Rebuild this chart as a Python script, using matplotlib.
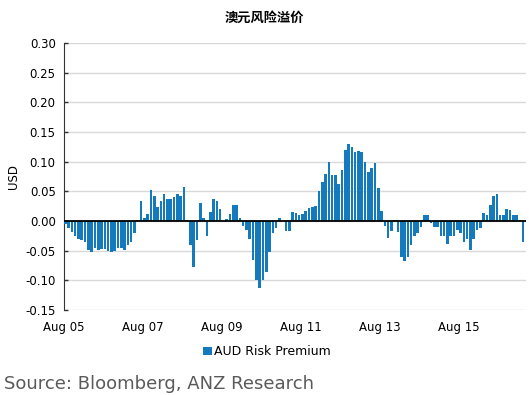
import numpy as np
import matplotlib
matplotlib.use("Agg")
import matplotlib.pyplot as plt

plt.rcParams['font.family'] = ['DejaVu Sans', 'Noto Sans CJK SC']

title = "澳元风险溢价"
series_name = "AUD Risk Premium"
source = "Source: Bloomberg, ANZ Research"

# monthly AUD risk premium, Aug 2005 onwards (USD)
premium = [
    -0.005, -0.012, -0.018, -0.025, -0.030, -0.032, -0.035, -0.048, -0.052, -0.045,
    -0.048, -0.047, -0.047, -0.050, -0.052, -0.050, -0.046, -0.045, -0.048, -0.040,
    -0.035, -0.020, 0.002, 0.033, 0.005, 0.012, 0.052, 0.043, 0.024, 0.033,
    0.045, 0.037, 0.038, 0.040, 0.045, 0.043, 0.058, 0.002, -0.040, -0.077,
    -0.032, 0.030, 0.005, -0.025, 0.015, 0.038, 0.033, 0.020, 0.000, 0.003,
    0.012, 0.027, 0.027, 0.006, -0.008, -0.015, -0.030, -0.065, -0.100, -0.112,
    -0.100, -0.085, -0.052, -0.020, -0.012, 0.005, 0.000, -0.017, -0.017, 0.015,
    0.014, 0.010, 0.012, 0.017, 0.022, 0.023, 0.025, 0.050, 0.065, 0.080,
    0.100, 0.077, 0.077, 0.063, 0.086, 0.120, 0.130, 0.124, 0.116, 0.118,
    0.116, 0.100, 0.083, 0.090, 0.098, 0.055, 0.017, -0.008, -0.028, -0.017,
    0.002, -0.018, -0.060, -0.068, -0.060, -0.040, -0.025, -0.020, -0.010, 0.010,
    0.010, -0.003, -0.010, -0.010, -0.025, -0.025, -0.038, -0.025, -0.025, -0.015,
    -0.020, -0.035, -0.030, -0.048, -0.030, -0.015, -0.012, 0.013, 0.010, 0.027,
    0.043, 0.045, 0.010, 0.010, 0.020, 0.018, 0.010, 0.010, 0.002, -0.035,
]
tick_labels = ["Aug 05", "Aug 07", "Aug 09", "Aug 11", "Aug 13", "Aug 15"]
y_ticks = [-0.15, -0.10, -0.05, 0.00, 0.05, 0.10, 0.15, 0.20, 0.25, 0.30]

blue = "#1479bd"

fig = plt.figure(figsize=(5.29, 3.95), dpi=100)
ax = fig.add_axes([0.121, 0.215, 0.873, 0.676])

x = np.arange(len(premium))
ax.bar(x, premium, width=0.78, align='edge', color=blue, label=series_name, zorder=3)

ax.set_xlim(0, len(premium) + 0.2)
ax.set_ylim(-0.15, 0.30)
ax.set_yticks(y_ticks)
ax.set_yticklabels([f"{v:.2f}" for v in y_ticks], fontsize=8.5)
ax.set_xticks(np.arange(len(tick_labels)) * 24)
ax.set_xticklabels(tick_labels, fontsize=8.5)
ax.tick_params(axis='x', length=0, pad=8)
ax.tick_params(axis='y', direction='in', length=3, width=1, color='#333333', pad=6)

ax.grid(axis='y', color='#d9d9d9', linewidth=1, zorder=0)
ax.axhline(0, color='black', linewidth=1.3, zorder=4)
for s in ['top', 'right', 'bottom']:
    ax.spines[s].set_visible(False)
ax.spines['left'].set_color('#333333')

ax.set_ylabel("USD", fontsize=8.5, labelpad=4)

fig.text(0.5, 0.955, title, ha='center', va='center', fontsize=9.5,
         fontweight='bold', family=['Noto Sans CJK SC', 'DejaVu Sans'])

ax.legend(loc='upper center', bbox_to_anchor=(0.44, -0.09), frameon=False,
          fontsize=9, handlelength=0.7, handleheight=0.7, handletextpad=0.2)

fig.text(0.008, 0.028, source, ha='left', va='center', fontsize=13, color='#5a5a5a')

fig.savefig("out.png", dpi=100)
